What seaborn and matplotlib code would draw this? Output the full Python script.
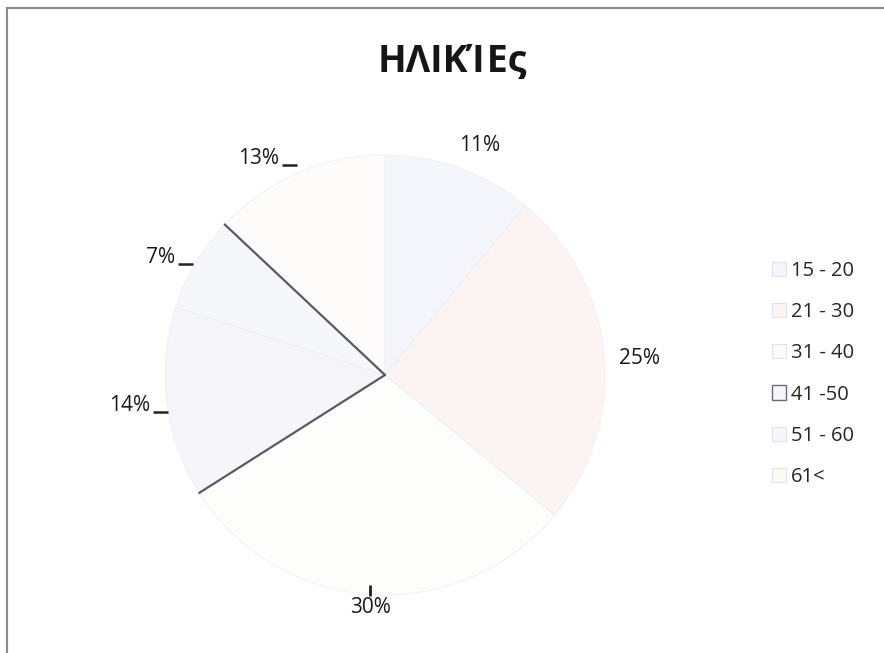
import matplotlib
matplotlib.use("Agg")
import matplotlib.pyplot as plt
import numpy as np
import seaborn as sns
from matplotlib.lines import Line2D
from matplotlib.patches import Patch

sns.set_theme(style="white")
plt.rcParams['font.family'] = ['Open Sans', 'DejaVu Sans']

# data
categories = ['15 - 20', '21 - 30', '31 - 40', '41 -50', '51 - 60', '61<']
values = [11, 25, 30, 14, 7, 13]
pct_labels = ['11%', '25%', '30%', '14%', '7%', '13%']

# very washed out scan colours
colors = ['#f4f6fb', '#fcf4f3', '#fdfdfc', '#f6f6fa', '#f5f7fb', '#fdfcfa']
legend_colors = ['#f4f6fb', '#fcf4f3', '#fcfcf6', '#f6f6fa', '#f5f7fb', '#fdfaf2']
label_dist = [1.13, 1.16, 1.06, 1.17, 1.15, 1.14]
label_shift = [2.6, 1.6, 0.0, 0.5, -3.0, -7.0]   # degrees, clockwise
leader = [None, None, 'v', 'h', 'h', 'h']

fig = plt.figure(figsize=(8.84, 6.53), dpi=100)
fig.patch.set_facecolor('white')

W, H = 884, 653
cx, cy, R = 385, 375, 220
ax = fig.add_axes([(cx - R) / W, (H - cy - R) / H, 2 * R / W, 2 * R / H])

wedges, _ = ax.pie(values, colors=colors, startangle=90, counterclock=False,
                   radius=1.0, wedgeprops=dict(edgecolor='#eceff3', linewidth=0.6))
ax.set_xlim(-1, 1)
ax.set_ylim(-1, 1)
ax.set_aspect('equal')
ax.axis('off')

texts = []
for w, lab, d, sh in zip(wedges, pct_labels, label_dist, label_shift):
    mid = np.deg2rad((w.theta1 + w.theta2) / 2 - sh)
    t = ax.text(d * np.cos(mid), d * np.sin(mid), lab, ha='center', va='center',
                fontsize=15, color='#1a1a1a', clip_on=False)
    texts.append(t)

fig.canvas.draw()
rend = fig.canvas.get_renderer()
px = 1.0 / R  # data units per pixel
for t, kind in zip(texts, leader):
    if kind is None:
        continue
    bb = t.get_window_extent(rend).transformed(ax.transData.inverted())
    if kind == 'h':
        y = bb.y0 + 4 * px
        x0 = bb.x1 + 3 * px
        ax.plot([x0, x0 + 15 * px], [y, y], color='#222222', lw=1.8,
                clip_on=False, solid_capstyle='butt')
    else:
        xm = (bb.x0 + bb.x1) / 2
        ax.plot([xm, xm], [bb.y1 + 1 * px, bb.y1 + 12 * px], color='#222222',
                lw=2, clip_on=False, solid_capstyle='butt')

# darker radial edges seen in the scan
for ang in [wedges[3].theta2, wedges[4].theta1]:
    a = np.deg2rad(ang)
    ax.plot([0, np.cos(a)], [0, np.sin(a)], color='#5a5a62', lw=1.6)

fig.text(0.512, 1 - 62 / H, 'ΗΛΙΚΊΕς', ha='center', va='center',
         fontsize=27, fontweight='bold', color='#161616')

handles = [Patch(facecolor=c, edgecolor='#e2e3ea', linewidth=0.8) for c in legend_colors]
handles[3] = Patch(facecolor=legend_colors[3], edgecolor='#6a6a78', linewidth=1.0)
fig.legend(handles, categories, loc='center left',
           bbox_to_anchor=(754 / W, 1 - 374 / H), frameon=False,
           fontsize=14.5, handlelength=0.7, handleheight=0.7,
           handletextpad=0.25, labelspacing=1.05)

# frame lines of the scanned chart
fig.add_artist(Line2D([7 / W, 1], [1 - 8 / H, 1 - 8 / H], color='#8a8a8a', lw=1.5))
fig.add_artist(Line2D([7 / W, 7 / W], [0, 1 - 8 / H], color='#8a8a8a', lw=1.5))

fig.savefig('out.png', dpi=100, facecolor='white')
